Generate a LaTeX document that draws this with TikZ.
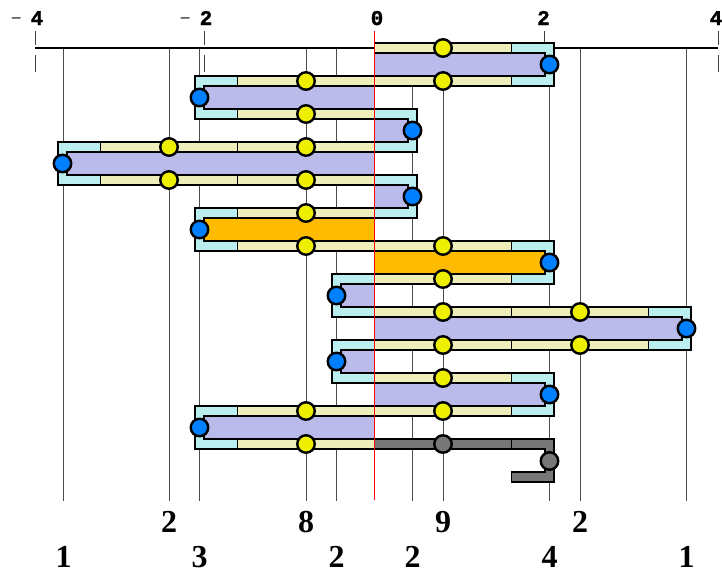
\documentclass[tikz,border=0pt]{standalone}
\usepackage{fontspec}
\setmainfont{Liberation Serif}
\newfontfamily\tickfont{Liberation Mono Bold}[FakeBold=1.5]
\newfontfamily\minusfont{Liberation Sans}
\definecolor{cLav}{HTML}{BBBBEB}
\definecolor{cCy}{HTML}{BBEEEE}
\definecolor{cYel}{HTML}{EEEEBB}
\definecolor{cOrng}{HTML}{FFBB00}
\definecolor{cYdot}{HTML}{EEEE00}
\definecolor{cBdot}{HTML}{0080FF}
\definecolor{cGr}{HTML}{777777}
\def\xo{374.5}
\newcommand\RBlk[3]{%
  \pgfmathsetmacro\yt{48+33*#1}%
  \pgfmathsetmacro\yb{81+33*#1}%
  \pgfmathsetmacro\bl{137*#2+42.5}%
  \filldraw[blk, fill=cCy] (\xo,\yt-5) rectangle (\xo+\bl,\yb+5);
  \filldraw[blk, fill=#3] (\xo,\yt+5) rectangle (\xo+\bl-9,\yb-5);
  \ifnum#2>0\relax
  \foreach \i in {1,...,#2}{%
    \filldraw[blk, fill=cYel] (\xo+137*\i-137,\yt-5) rectangle (\xo+137*\i,\yt+5);
    \filldraw[blk, fill=cYel] (\xo+137*\i-137,\yb-5) rectangle (\xo+137*\i,\yb+5);
    \node[ydot] (y#1t\i) at (\xo+137*\i-68.5,\yt) {};
    \node[ydot] (y#1b\i) at (\xo+137*\i-68.5,\yb) {};
  }%
  \fi
  \node[bdot] (b#1) at (\xo+\bl-4.5,\yt+16.5) {};
}
\newcommand\LBlk[3]{%
  \pgfmathsetmacro\yt{48+33*#1}%
  \pgfmathsetmacro\yb{81+33*#1}%
  \pgfmathsetmacro\bl{137*#2+42.5}%
  \filldraw[blk, fill=cCy] (\xo,\yt-5) rectangle (\xo-\bl,\yb+5);
  \filldraw[blk, fill=#3] (\xo,\yt+5) rectangle (\xo-\bl+9,\yb-5);
  \ifnum#2>0\relax
  \foreach \i in {1,...,#2}{%
    \filldraw[blk, fill=cYel] (\xo-137*\i+137,\yt-5) rectangle (\xo-137*\i,\yt+5);
    \filldraw[blk, fill=cYel] (\xo-137*\i+137,\yb-5) rectangle (\xo-137*\i,\yb+5);
    \node[ydot] (y#1t\i) at (\xo-137*\i+68.5,\yt) {};
    \node[ydot] (y#1b\i) at (\xo-137*\i+68.5,\yb) {};
  }%
  \fi
  \node[bdot] (b#1) at (\xo-\bl+4.5,\yt+16.5) {};
}
\newcommand\TickLab[3]{%
  \node[ticklab] (#1) at (#2,25) {#3};
}
\newcommand\NegMark{\makebox[0pt][r]{\raisebox{3pt}{\minusfont\fontsize{16}{16}\selectfont –}\hspace{10pt}}}
\begin{document}
\begin{tikzpicture}[x=1pt,y=-1pt,
  blk/.style={draw=black, line width=1.6pt},
  dot/.style={circle, draw=black, line width=2.4pt, inner sep=0pt, minimum size=17.5pt},
  ydot/.style={dot, fill=cYdot},
  bdot/.style={dot, fill=cBdot},
  gdot/.style={dot, fill=cGr},
  vline/.style={draw=black!70, line width=1pt},
  tickmark/.style={draw=black!75, line width=1pt},
  ticklab/.style={anchor=base, inner sep=0pt, font=\fontsize{21}{21}\tickfont\selectfont},
  numlab/.style={anchor=base, inner sep=0pt, font=\fontsize{32}{32}\selectfont\bfseries}]
\useasboundingbox (0,0) rectangle (722,574);
% vertical guide lines
\foreach \dx in {-311,-205.5,-175,-68.5,-38,38,68.5,175,205.5,312}
  \draw[vline] (\xo+\dx,48) -- (\xo+\dx,501);
% axis
\draw[line width=2.8pt] (35,48) -- (718,48);
\foreach \tx in {35,204.5,544.5,718}{
  \draw[tickmark] (\tx,31) -- (\tx,45);
  \draw[tickmark] (\tx,55) -- (\tx,72);
}
\TickLab{tm4}{37}{\NegMark 4}
\TickLab{tm2}{206}{\NegMark 2}
\TickLab{t0}{377}{0}
\TickLab{t2}{543.5}{2}
\TickLab{t4}{716}{4}
% blocks
\RBlk{0}{1}{cLav}
\LBlk{1}{1}{cLav}
\RBlk{2}{0}{cLav}
\LBlk{3}{2}{cLav}
\RBlk{4}{0}{cLav}
\LBlk{5}{1}{cOrng}
\RBlk{6}{1}{cOrng}
\LBlk{7}{0}{cLav}
\RBlk{8}{2}{cLav}
\LBlk{9}{0}{cLav}
\RBlk{10}{1}{cLav}
\LBlk{11}{1}{cLav}
% grey end piece
\filldraw[blk, fill=cGr] (\xo,439) -- (\xo+179.5,439) -- (\xo+179.5,482) -- (\xo+137,482)
  -- (\xo+137,472) -- (\xo+170.5,472) -- (\xo+170.5,449) -- (\xo,449) -- cycle;
\draw[blk] (\xo+137,439) -- (\xo+137,449);
\node[gdot] (g1) at (\xo+68.5,444) {};
\node[gdot] (g2) at (\xo+175,461) {};
% zero line
\draw[red, line width=1.4pt] (\xo,31) -- (\xo,500);
% bottom numbers
\node[numlab] (n1) at (\xo-205.5,532) {2};
\node[numlab] (n2) at (\xo-68.5,532) {8};
\node[numlab] (n3) at (\xo+68.5,532) {9};
\node[numlab] (n4) at (\xo+205.5,532) {2};
\node[numlab] (m1) at (\xo-311,567) {1};
\node[numlab] (m2) at (\xo-175,567) {3};
\node[numlab] (m3) at (\xo-38,567) {2};
\node[numlab] (m4) at (\xo+38,567) {2};
\node[numlab] (m5) at (\xo+175,567) {4};
\node[numlab] (m6) at (\xo+312,567) {1};
\end{tikzpicture}
\end{document}
